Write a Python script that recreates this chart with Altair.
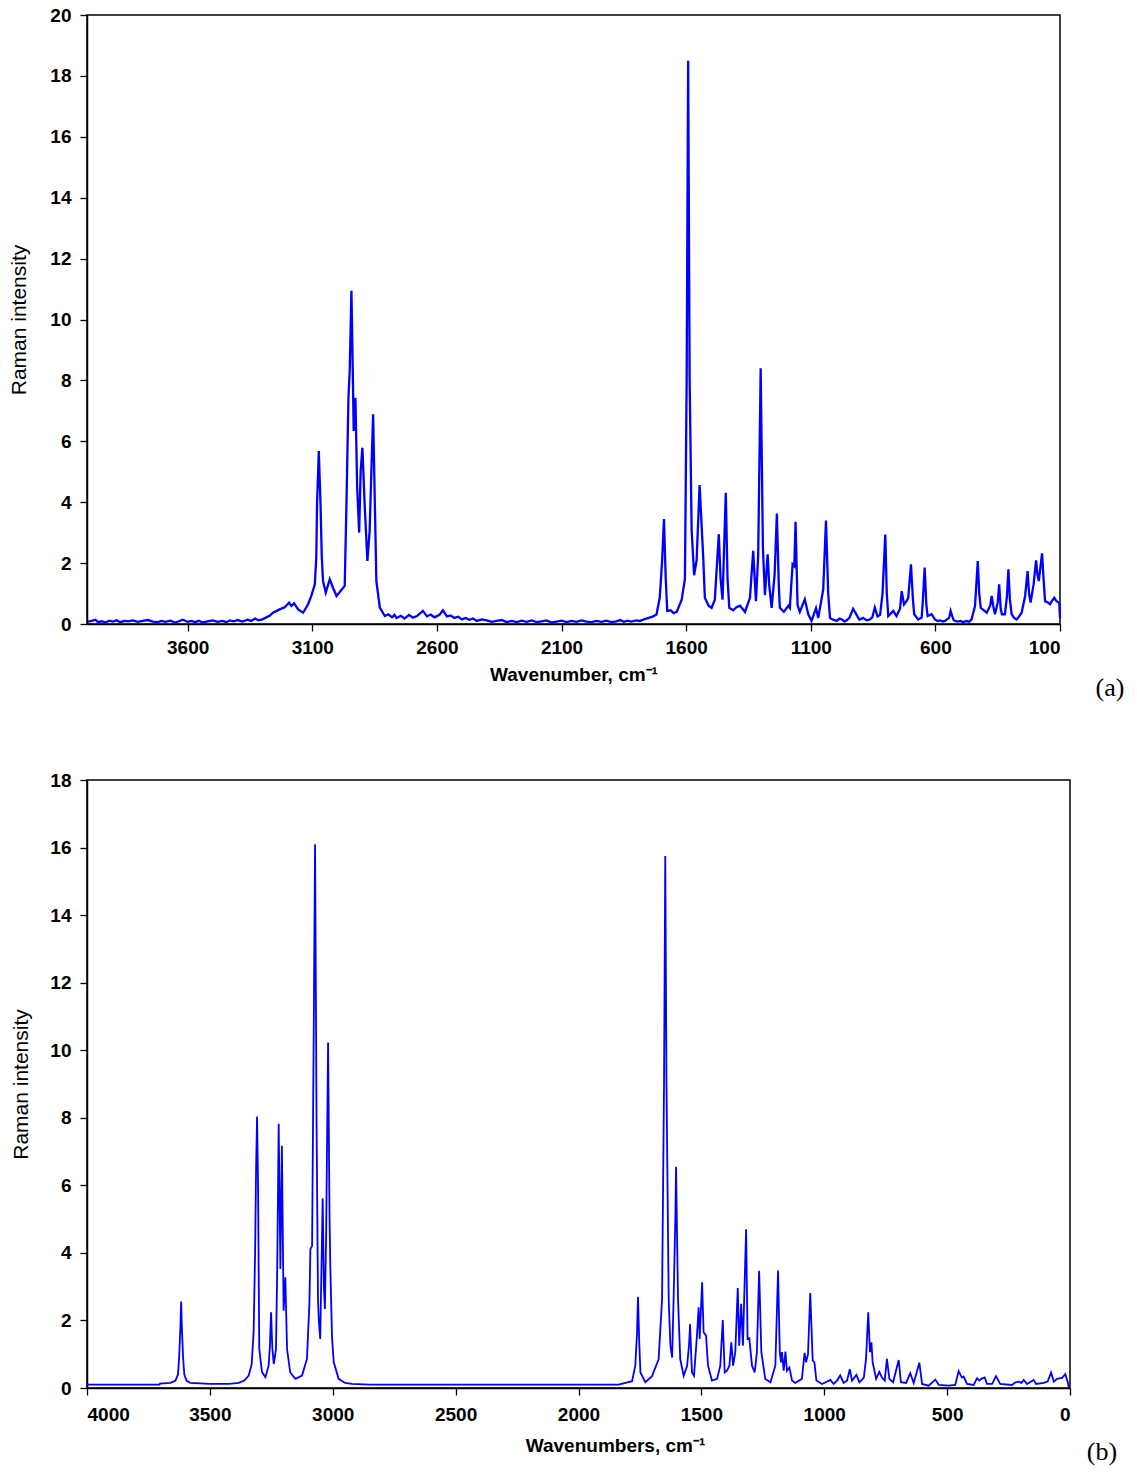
import altair as alt
import pandas as pd

# ---------------- Panel (a): experimental Raman spectrum ----------------
A_WAVENUMBER = [
    4000, 3985, 3970, 3960, 3945, 3930, 3915, 3900, 3885, 3870, 3855, 3840, 3820, 3800, 3780,
    3760, 3740, 3720, 3705, 3690, 3670, 3650, 3635, 3620, 3600, 3585, 3570, 3555, 3540, 3520,
    3500, 3480, 3460, 3445, 3431, 3415, 3400, 3380, 3360, 3345, 3330, 3315, 3298, 3270, 3258,
    3231, 3211, 3193, 3184, 3173, 3157, 3137, 3117, 3104, 3090, 3084, 3081, 3074, 3067, 3062,
    3057, 3046, 3030, 3017, 3003, 2985, 2970, 2963, 2955, 2950, 2943, 2937, 2934, 2927, 2920,
    2912, 2906, 2899, 2890, 2879, 2870, 2863, 2856, 2849, 2843, 2829, 2809, 2795, 2780, 2770,
    2762, 2745, 2730, 2712, 2696, 2680, 2670, 2656, 2640, 2625, 2610, 2590, 2576, 2560, 2545,
    2530, 2515, 2500, 2485, 2470, 2455, 2440, 2420, 2400, 2380, 2360, 2340, 2320, 2300, 2280,
    2260, 2240, 2220, 2200, 2180, 2160, 2140, 2120, 2100, 2080, 2060, 2040, 2020, 2000, 1980,
    1960, 1940, 1920, 1900, 1880, 1865, 1850, 1835, 1820, 1800, 1786, 1770, 1750, 1735, 1719,
    1706, 1697, 1689, 1682, 1676, 1662, 1650, 1638, 1618, 1605, 1598, 1592, 1586, 1578, 1568,
    1558, 1546, 1531, 1525, 1510, 1498, 1485, 1469, 1462, 1454, 1441, 1434, 1427, 1411, 1398,
    1384, 1364, 1344, 1331, 1320, 1311, 1301, 1292, 1284, 1273, 1267, 1257, 1245, 1236, 1228,
    1224, 1208, 1190, 1184, 1173, 1166, 1161, 1153, 1144, 1124, 1110, 1097, 1079, 1070, 1050,
    1039, 1030, 1023, 1010, 996, 985, 975, 965, 956, 945, 930, 916, 905, 890, 876,
    863, 853, 843, 832, 822, 812, 801, 795, 789, 769, 756, 742, 735, 726, 716,
    709, 698, 690, 685, 669, 655, 650, 643, 636, 631, 615, 602, 590, 580, 570,
    562, 545, 539, 532, 526, 512, 500, 488, 475, 465, 455, 441, 430, 424, 418,
    394, 380, 374, 368, 361, 350, 344, 338, 333, 321, 313, 307, 301, 294, 284,
    274, 264, 254, 240, 230, 224, 218, 206, 196, 190, 185, 172, 166, 160, 147,
    140, 133, 123, 114, 103, 100,
]
A_INTENSITY = [
    0.08, 0.10, 0.14, 0.06, 0.09, 0.05, 0.11, 0.08, 0.12, 0.06, 0.10, 0.09, 0.12, 0.07, 0.10,
    0.13, 0.08, 0.06, 0.10, 0.07, 0.11, 0.05, 0.09, 0.14, 0.07, 0.10, 0.06, 0.11, 0.05, 0.09,
    0.12, 0.07, 0.10, 0.06, 0.12, 0.09, 0.13, 0.08, 0.14, 0.10, 0.18, 0.12, 0.16, 0.28, 0.37,
    0.48, 0.55, 0.70, 0.59, 0.68, 0.48, 0.37, 0.65, 0.92, 1.30, 2.20, 3.93, 5.68, 3.93, 2.20,
    1.41, 1.03, 1.47, 1.19, 0.92, 1.10, 1.25, 3.93, 7.43, 8.30, 10.94, 8.00, 6.34, 7.43, 4.48,
    3.00, 5.02, 5.79, 3.93, 2.07, 3.05, 5.02, 6.89, 3.93, 1.41, 0.54, 0.26, 0.32, 0.22, 0.30,
    0.20, 0.27, 0.18, 0.30, 0.21, 0.26, 0.33, 0.43, 0.25, 0.31, 0.22, 0.30, 0.45, 0.25, 0.28,
    0.20, 0.24, 0.15, 0.20, 0.14, 0.18, 0.10, 0.15, 0.12, 0.07, 0.10, 0.13, 0.06, 0.10, 0.06,
    0.11, 0.07, 0.12, 0.06, 0.09, 0.12, 0.05, 0.08, 0.11, 0.06, 0.10, 0.07, 0.12, 0.08, 0.06,
    0.10, 0.07, 0.11, 0.06, 0.09, 0.13, 0.07, 0.11, 0.08, 0.12, 0.10, 0.15, 0.20, 0.24, 0.31,
    0.86, 2.00, 3.45, 1.50, 0.43, 0.45, 0.36, 0.40, 0.80, 1.48, 8.00, 18.50, 8.00, 3.08, 1.60,
    2.10, 4.56, 2.10, 0.86, 0.60, 0.53, 0.80, 2.95, 1.50, 0.80, 4.31, 1.50, 0.53, 0.45, 0.55,
    0.60, 0.40, 0.86, 2.40, 0.75, 2.25, 8.40, 2.50, 0.95, 2.29, 1.30, 0.53, 1.63, 3.63, 1.20,
    0.53, 0.40, 0.60, 0.53, 1.96, 1.90, 3.36, 0.62, 0.40, 0.81, 0.32, 0.10, 0.52, 0.20, 1.14,
    3.40, 1.00, 0.20, 0.14, 0.10, 0.18, 0.15, 0.08, 0.12, 0.20, 0.50, 0.30, 0.14, 0.20, 0.12,
    0.15, 0.22, 0.54, 0.25, 0.30, 1.00, 2.94, 1.00, 0.26, 0.43, 0.26, 0.50, 1.08, 0.64, 0.75,
    0.86, 1.96, 0.80, 0.32, 0.15, 0.21, 0.80, 1.85, 0.60, 0.26, 0.32, 0.15, 0.10, 0.12, 0.08,
    0.10, 0.20, 0.43, 0.25, 0.12, 0.08, 0.10, 0.06, 0.10, 0.07, 0.15, 0.59, 2.07, 1.00, 0.53,
    0.37, 0.60, 0.92, 0.60, 0.32, 0.70, 1.30, 0.50, 0.32, 0.32, 0.90, 1.80, 0.80, 0.32, 0.20,
    0.15, 0.25, 0.37, 0.92, 1.74, 1.00, 0.70, 1.30, 2.09, 1.60, 1.41, 2.32, 1.50, 0.75, 0.70,
    0.65, 0.75, 0.86, 0.75, 0.70, 0.20,
]

# ---------------- Panel (b): calculated Raman spectrum ----------------
B_WAVENUMBER = [
    4000, 3800, 3705, 3703, 3660, 3640, 3630, 3625, 3620, 3617, 3614, 3609, 3604, 3595, 3580,
    3500, 3420, 3383, 3360, 3342, 3330, 3322, 3316, 3312, 3308, 3304, 3299, 3288, 3274, 3261,
    3256, 3251, 3246, 3240, 3231, 3226, 3220, 3213, 3207, 3200, 3193, 3186, 3173, 3152, 3125,
    3105, 3095, 3091, 3084, 3078, 3072, 3066, 3060, 3057, 3051, 3046, 3041, 3036, 3032, 3027,
    3019, 3013, 3010, 3003, 2996, 2976, 2950, 2922, 2850, 2500, 2000, 1904, 1837, 1782, 1769,
    1762, 1758, 1753, 1748, 1728, 1701, 1674, 1660, 1652, 1647, 1642, 1633, 1626, 1619, 1613,
    1606, 1603, 1599, 1595, 1586, 1572, 1558, 1550, 1546, 1541, 1538, 1530, 1519, 1511, 1507,
    1497, 1491, 1481, 1473, 1457, 1436, 1423, 1413, 1405, 1396, 1386, 1378, 1371, 1362, 1352,
    1346, 1338, 1331, 1318, 1312, 1305, 1294, 1283, 1274, 1265, 1256, 1240, 1219, 1199, 1188,
    1181, 1176, 1172, 1165, 1158, 1152, 1142, 1131, 1118, 1091, 1080, 1074, 1066, 1057, 1047,
    1040, 1032, 1009, 975, 962, 948, 935, 921, 907, 896, 887, 869, 857, 839, 830,
    821, 814, 808, 803, 789, 776, 765, 754, 745, 735, 720, 697, 688, 667, 650,
    636, 613, 602, 575, 548, 534, 494, 467, 453, 440, 433, 419, 392, 378, 369,
    361, 347, 338, 317, 301, 284, 236, 222, 206, 198, 188, 175, 148, 138, 107,
    91, 77, 66, 53, 39, 33, 19, 9, 5,
]
B_INTENSITY = [
    0.10, 0.10, 0.10, 0.13, 0.15, 0.22, 0.40, 0.90, 1.80, 2.56, 1.80, 0.90, 0.40, 0.22, 0.15,
    0.12, 0.12, 0.15, 0.22, 0.37, 0.70, 1.65, 4.00, 6.50, 8.04, 6.00, 1.15, 0.47, 0.32, 0.66,
    1.20, 2.24, 1.20, 0.71, 1.15, 3.50, 7.82, 3.52, 7.17, 2.29, 3.28, 1.15, 0.46, 0.27, 0.37,
    0.86, 2.50, 4.11, 4.21, 10.00, 16.10, 8.00, 2.60, 2.04, 1.45, 3.50, 5.61, 3.00, 2.34, 4.50,
    10.23, 5.00, 3.62, 1.50, 0.76, 0.27, 0.15, 0.12, 0.10, 0.10, 0.10, 0.10, 0.10, 0.20, 0.66,
    1.60, 2.70, 1.40, 0.46, 0.17, 0.35, 0.85, 2.63, 9.00, 15.75, 9.00, 2.63, 1.25, 0.90, 2.63,
    5.00, 6.55, 4.50, 2.63, 0.85, 0.36, 0.66, 1.30, 1.89, 0.90, 0.46, 0.36, 1.45, 2.39, 1.45,
    3.13, 1.65, 1.55, 0.66, 0.22, 0.27, 0.66, 2.01, 0.46, 0.51, 0.66, 1.35, 0.66, 1.06, 2.96,
    1.25, 2.49, 1.25, 4.70, 1.45, 1.47, 0.66, 0.46, 1.06, 3.47, 1.06, 0.27, 0.17, 0.66, 3.48,
    1.06, 0.76, 1.06, 0.51, 1.08, 0.51, 0.61, 0.22, 0.15, 0.27, 1.04, 0.76, 1.01, 2.81, 0.81,
    0.76, 0.22, 0.12, 0.24, 0.12, 0.22, 0.37, 0.15, 0.22, 0.56, 0.22, 0.39, 0.17, 0.31, 0.86,
    2.24, 1.06, 1.35, 0.76, 0.27, 0.48, 0.31, 0.22, 0.86, 0.27, 0.17, 0.83, 0.17, 0.15, 0.44,
    0.15, 0.75, 0.12, 0.07, 0.25, 0.09, 0.07, 0.09, 0.50, 0.31, 0.34, 0.12, 0.09, 0.29, 0.22,
    0.27, 0.31, 0.12, 0.12, 0.35, 0.12, 0.09, 0.17, 0.19, 0.15, 0.24, 0.12, 0.24, 0.12, 0.15,
    0.19, 0.46, 0.19, 0.27, 0.29, 0.29, 0.41, 0.17, 0.02,
]

A_XTICKS = [3600, 3100, 2600, 2100, 1600, 1100, 600, 100]
A_YTICKS = [0, 2, 4, 6, 8, 10, 12, 14, 16, 18, 20]
B_XTICKS = [4000, 3500, 3000, 2500, 2000, 1500, 1000, 500, 0]
B_YTICKS = [0, 2, 4, 6, 8, 10, 12, 14, 16, 18]

SANS = "Liberation Sans"


def panel(wn, inten, xdom, xticks, ydom, yticks, xtitle, w, h, lw, tag, tag_x, tag_y,
          ytitle_pad, xlabel_pad, xtitle_pad, title_x=None):
    df = pd.DataFrame({"wn": wn, "I": inten})
    xaxis_kwargs = dict(
        values=xticks, title=xtitle, format="d", grid=False,
        labelFont=SANS, labelFontWeight="bold", labelFontSize=19, labelColor="black",
        labelPadding=xlabel_pad, tickSize=7, tickColor="black", tickWidth=1.3,
        domainColor="black", domainWidth=1.5,
        titleFont=SANS, titleFontWeight="bold", titleFontSize=19, titleColor="black",
        titlePadding=xtitle_pad,
    )
    if title_x is not None:
        xaxis_kwargs["titleX"] = title_x
    line = alt.Chart(df).mark_line(color="#0000ff", strokeWidth=lw, interpolate="linear").encode(
        x=alt.X("wn:Q",
                scale=alt.Scale(domain=xdom, reverse=True, nice=False, zero=False),
                axis=alt.Axis(**xaxis_kwargs)),
        y=alt.Y("I:Q",
                scale=alt.Scale(domain=ydom, nice=False),
                axis=alt.Axis(values=yticks, title="Raman intensity", grid=False,
                              labelFont=SANS, labelFontWeight="bold", labelFontSize=19,
                              labelColor="black", labelPadding=9, tickSize=7,
                              tickColor="black", tickWidth=1.3,
                              domainColor="black", domainWidth=1.5,
                              titleFont=SANS, titleFontWeight="normal", titleFontSize=21,
                              titleColor="black", titlePadding=ytitle_pad)),
    )
    label = alt.Chart(pd.DataFrame({"t": [tag]})).mark_text(
        font="Liberation Serif", fontSize=26, color="black", align="center", baseline="middle"
    ).encode(x=alt.value(tag_x), y=alt.value(tag_y), text="t:N")
    return alt.layer(line, label).properties(
        width=w, height=h, view=alt.ViewBackground(stroke="black", strokeWidth=1.5)
    )


chart_a = panel(A_WAVENUMBER, A_INTENSITY, [100, 4004], A_XTICKS, [0, 20], A_YTICKS,
                "Wavenumber, cm⁻¹", 973, 609, 2.3, "(a)", 1023, 673,
                ytitle_pad=20, xlabel_pad=7, xtitle_pad=8)
chart_b = panel(B_WAVENUMBER, B_INTENSITY, [0, 4000], B_XTICKS, [0, 18], B_YTICKS,
                "Wavenumbers, cm⁻¹", 983, 608, 1.8, "(b)", 1015, 672,
                ytitle_pad=18, xlabel_pad=10, xtitle_pad=12, title_x=528)

chart = alt.vconcat(chart_a, chart_b, spacing=68).properties(
    padding={"left": 8, "top": 5, "right": 5, "bottom": 5}
).configure_view(stroke="black", strokeWidth=1.5).configure(background="white")

chart.save("out.html", embed_options={"renderer": "svg", "actions": False})
